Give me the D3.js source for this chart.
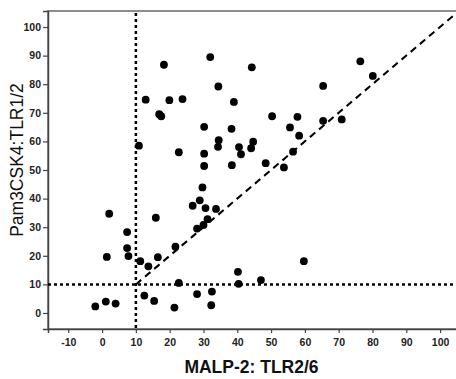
<!DOCTYPE html>
<html>
<head>
<meta charset="utf-8">
<script src="https://cdn.jsdelivr.net/npm/d3@7"></script>
<style>
  body { margin: 0; background: #fff; }
  svg { display: block; }
  .tick text { font-family: "Liberation Sans", Arial, sans-serif; font-weight: bold; font-size: 10.5px; fill: #222; }
</style>
</head>
<body>
<svg id="chart" width="456" height="379"></svg>
<script>
// MALP-2 (TLR2/6) values
const malp2 = [32.0, 18.3, 34.4, 12.9, 19.9, 23.8, 16.9, 17.5, 30.2, 34.5,
  34.3, 10.9, 22.7, 30.2, 30.2, 44.3, 76.4, 80.1, 65.4, 39.0,
  50.3, 57.8, 55.6, 65.4, 70.9, 38.3, 58.3, 44.7, 40.5, 44.1,
  41.1, 56.5, 38.4, 48.4, 53.8, 29.7, 26.8, 28.9, 30.6, 33.7,
  31.2, 28.1, 30.0, 2.1, 15.9, 7.4, 7.4, 7.8, 1.4, 21.7,
  11.3, 13.7, 16.5, 22.7, 12.5, 15.4, 21.4, -2.0, 1.1, 4.0,
  28.1, 32.5, 32.3, 40.2, 40.4, 47.0, 59.7];
// Pam3CSK4 (TLR1/2) values
const pam3 = [89.5, 86.8, 79.2, 74.6, 74.4, 74.8, 69.5, 68.8, 65.1, 60.4,
  58.1, 58.5, 56.2, 55.7, 51.4, 85.9, 88.0, 82.9, 79.4, 73.8,
  68.8, 68.6, 64.9, 67.2, 67.7, 64.4, 62.0, 59.9, 58.0, 57.6,
  55.5, 56.4, 51.7, 52.4, 50.9, 43.9, 37.5, 39.4, 36.7, 36.4,
  32.8, 29.5, 30.8, 34.7, 33.3, 28.3, 22.7, 19.9, 19.6, 23.2,
  18.1, 16.3, 19.5, 10.5, 6.1, 4.2, 1.9, 2.3, 4.0, 3.3,
  6.6, 7.5, 2.7, 14.4, 10.2, 11.5, 18.1];
const xTicks = [-10, 0, 10, 20, 30, 40, 50, 60, 70, 80, 90, 100];
const yTicks = [0, 10, 20, 30, 40, 50, 60, 70, 80, 90, 100];
const cutoff = 10;

const svg = d3.select('#chart');
const plotLeft = 48, plotTop = 11, plotBottom = 329;

const x = d3.scaleLinear().domain([-16, 106]).range([plotLeft, plotLeft + 122 * 3.38]);
const y = d3.scaleLinear().domain([-5.6, 105.6]).range([plotBottom, plotTop]);

// frame
svg.append('rect')
  .attr('x', plotLeft).attr('y', plotTop)
  .attr('width', x(106) - plotLeft).attr('height', plotBottom - plotTop)
  .attr('fill', 'none').attr('stroke', '#6a6a6a').attr('stroke-width', 1.5);

// axes (plain hyphen for negatives, like the original)
const xAxis = svg.append('g')
  .attr('transform', `translate(0,${plotBottom})`)
  .call(d3.axisBottom(x).tickValues(xTicks).tickFormat(d => String(d)).tickSize(4).tickPadding(6));
const yAxis = svg.append('g')
  .attr('transform', `translate(${plotLeft},0)`)
  .call(d3.axisLeft(y).tickValues(yTicks).tickFormat(d => String(d)).tickSize(5).tickPadding(2));
[xAxis, yAxis].forEach(a => {
  a.select('.domain').attr('stroke', '#444').attr('stroke-width', 1.5);
  a.selectAll('.tick line').attr('stroke', '#444').attr('stroke-width', 1.2);
});

// cutoff lines (dotted)
svg.append('line')
  .attr('x1', x(cutoff)).attr('x2', x(cutoff))
  .attr('y1', plotTop + 2).attr('y2', plotBottom)
  .attr('stroke', '#000').attr('stroke-width', 2.5).attr('stroke-dasharray', '3,3');
svg.append('line')
  .attr('x1', plotLeft).attr('x2', x(106))
  .attr('y1', y(cutoff)).attr('y2', y(cutoff))
  .attr('stroke', '#000').attr('stroke-width', 2.5).attr('stroke-dasharray', '3,3');

// identity line (dashed)
svg.append('line')
  .attr('x1', x(cutoff)).attr('y1', y(cutoff))
  .attr('x2', x(106)).attr('y2', y(106))
  .attr('stroke', '#000').attr('stroke-width', 2).attr('stroke-dasharray', '7,5');

// points
svg.append('g').selectAll('circle')
  .data(d3.range(malp2.length))
  .join('circle')
  .attr('cx', i => x(malp2[i]))
  .attr('cy', i => y(pam3[i]))
  .attr('r', 3.9)
  .attr('fill', '#000');

// titles
svg.append('text')
  .attr('x', 251.5).attr('y', 373)
  .attr('text-anchor', 'middle')
  .attr('font-family', '"Liberation Sans", Arial, sans-serif')
  .attr('font-weight', 'bold').attr('font-size', 17.5)
  .attr('fill', '#111')
  .text('MALP-2: TLR2/6');
svg.append('text')
  .attr('transform', 'translate(23,160) rotate(-90)')
  .attr('text-anchor', 'middle')
  .attr('font-family', '"Liberation Sans", Arial, sans-serif')
  .attr('font-size', 17.5)
  .attr('fill', '#111')
  .text('Pam3CSK4:TLR1/2');
</script>
</body>
</html>
